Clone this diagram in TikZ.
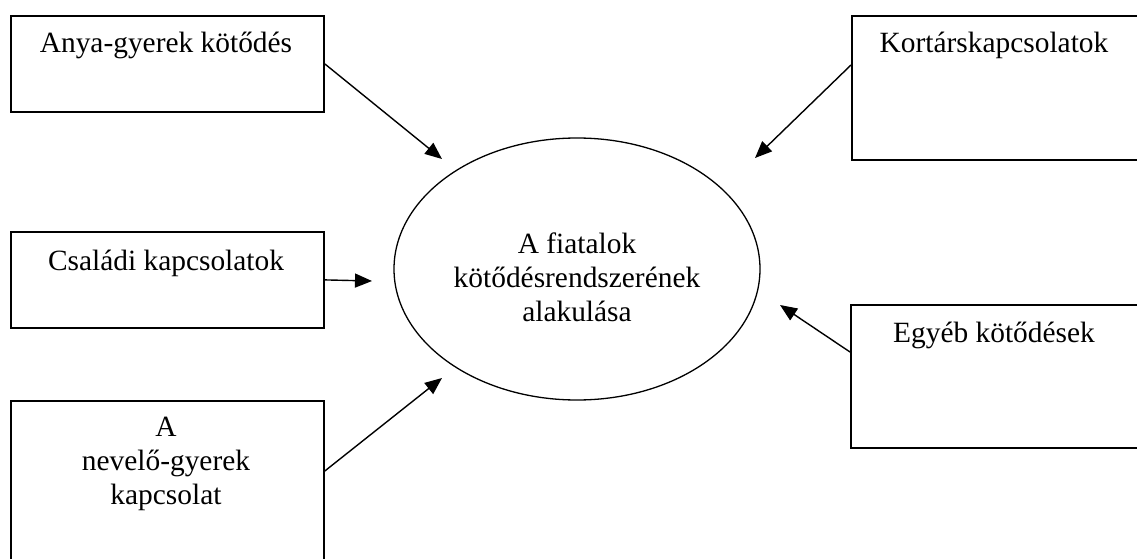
\documentclass[tikz,border=0pt]{standalone}
\usepackage{fontspec}
\setmainfont{Liberation Serif}
\usetikzlibrary{arrows.meta,shapes.geometric}
\begin{document}
\begin{tikzpicture}[x=1pt,y=-1pt,
  box/.style={draw, line width=1.8pt, rectangle, anchor=north west, inner sep=0pt},
  lbl/.style={font=\fontsize{29.4}{34}\selectfont, align=center, inner sep=0pt},
  oval/.style={draw, ellipse, line width=1.3pt, inner sep=0pt},
  conn/.style={line width=1.4pt, -{Triangle[length=17pt,width=14pt]}}]
\useasboundingbox (0,0) rectangle (1137,559);
\clip (0,0) rectangle (1137,559);
% boxes
\node[box, minimum width=313pt, minimum height=96pt] (b1) at (10,15) {};
\node[box, minimum width=320pt, minimum height=144pt] (b2) at (851,15) {};
\node[box, minimum width=313pt, minimum height=96pt] (b3) at (10,231) {};
\node[box, minimum width=320pt, minimum height=143pt] (b4) at (850,304) {};
\node[box, minimum width=313pt, minimum height=200pt] (b5) at (10,400) {};
% labels
\node[lbl, anchor=base] (l1) at (166,53) {Anya-gyerek kötődés};
\node[lbl, anchor=base] (l2) at (994,53) {Kortárskapcsolatok};
\node[lbl, anchor=base] (l3) at (166,270) {Családi kapcsolatok};
\node[lbl, anchor=base] (l4) at (994,342) {Egyéb kötődések};
\node[lbl] (l5) at (166,464) {A\\nevelő-gyerek\\kapcsolat};
% ellipse
\node[oval, minimum width=366pt, minimum height=262pt] (el) at (577,269) {};
\node[lbl] (le) at (577,277) {A fiatalok\\kötődésrendszerének\\alakulása};
% arrow tips
\coordinate (t1) at (442,159);
\coordinate (t2) at (755,158);
\coordinate (t3) at (372,281);
\coordinate (t4) at (780,305);
\coordinate (t5) at (442,378);
% connectors
\draw[conn] (b1.east) -- (t1);
\draw[conn] ([yshift=-50pt]b2.north west) -- (t2);
\draw[conn] (b3.east) -- (t3);
\draw[conn] ([yshift=-48pt]b4.north west) -- (t4);
\draw[conn] ([yshift=-71pt]b5.north east) -- (t5);
\end{tikzpicture}
\end{document}
